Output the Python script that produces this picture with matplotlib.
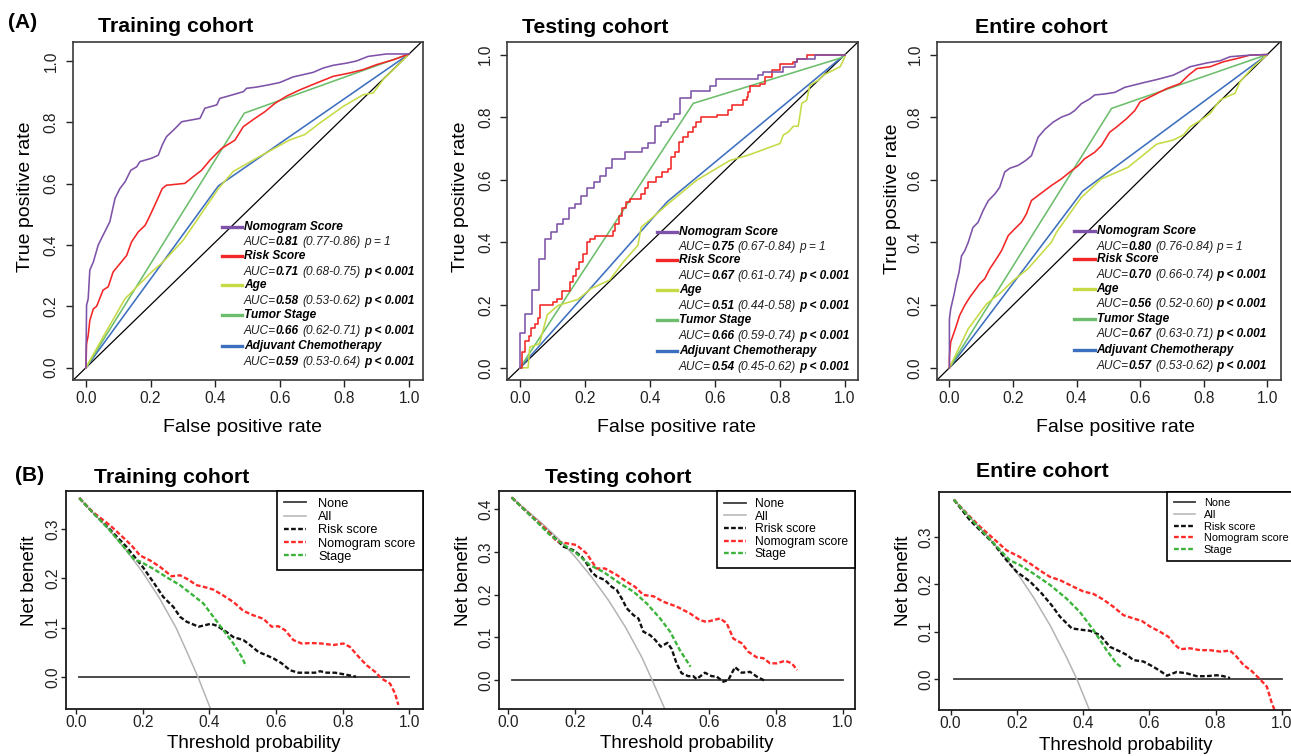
import matplotlib
matplotlib.use('Agg')
import matplotlib.pyplot as plt
from matplotlib.lines import Line2D
from matplotlib.ticker import FormatStrFormatter

plt.rcParams['font.family'] = ['Liberation Sans', 'DejaVu Sans']

# ---------------- ROC data (A) ----------------
# training cohort
tr_nomo_fpr = [0, 0.002, 0.007, 0.012, 0.023, 0.038, 0.053, 0.074, 0.090, 0.105, 0.121, 0.139, 0.157, 0.167,
               0.203, 0.224, 0.236, 0.249, 0.276, 0.296, 0.353, 0.368, 0.405, 0.414, 0.451, 0.487, 0.497, 0.528,
               0.569, 0.60, 0.641, 0.703, 0.734, 0.765, 0.806, 0.837, 0.873, 0.93, 1.0]
tr_nomo_tpr = [0, 0.204, 0.225, 0.318, 0.345, 0.40, 0.432, 0.476, 0.552, 0.584, 0.606, 0.644, 0.655, 0.672,
               0.683, 0.693, 0.726, 0.753, 0.780, 0.802, 0.813, 0.846, 0.857, 0.878, 0.889, 0.900, 0.911, 0.915,
               0.923, 0.93, 0.948, 0.963, 0.977, 0.986, 0.993, 1.0, 1.015, 1.023, 1.023]
tr_risk_fpr = [0, 0.002, 0.007, 0.012, 0.023, 0.033, 0.053, 0.069, 0.084, 0.105, 0.126, 0.141, 0.162, 0.183,
               0.199, 0.22, 0.236, 0.249, 0.306, 0.332, 0.358, 0.384, 0.42, 0.461, 0.487, 0.523, 0.554, 0.585,
               0.62, 0.662, 0.713, 0.765, 0.816, 0.858, 0.899, 0.951, 1.0]
tr_risk_tpr = [0, 0.078, 0.105, 0.154, 0.192, 0.20, 0.253, 0.264, 0.312, 0.339, 0.366, 0.41, 0.443, 0.464,
               0.498, 0.546, 0.584, 0.595, 0.601, 0.623, 0.644, 0.677, 0.715, 0.742, 0.786, 0.813, 0.835, 0.862,
               0.885, 0.906, 0.928, 0.95, 0.961, 0.972, 0.988, 1.004, 1.023]
tr_age_fpr = [0, 0.053, 0.121, 0.203, 0.239, 0.301, 0.410, 0.456, 0.538, 0.631, 0.677, 0.724, 0.796, 0.858,
              0.889, 0.92, 0.957, 1.0]
tr_age_tpr = [0, 0.10, 0.225, 0.312, 0.345, 0.416, 0.584, 0.640, 0.689, 0.743, 0.76, 0.798, 0.852, 0.89,
              0.896, 0.94, 0.978, 1.023]
tr_stage_fpr = [0, 0.49, 1.0]
tr_stage_tpr = [0, 0.83, 1.023]
tr_chemo_fpr = [0, 0.41, 1.0]
tr_chemo_tpr = [0, 0.593, 1.023]

# testing cohort
te_nomo_fpr = [0, 0, 0.016, 0.037, 0.057, 0.076, 0.094, 0.113, 0.132, 0.151, 0.168, 0.189, 0.207, 0.228,
               0.245, 0.266, 0.283, 0.322, 0.375, 0.394, 0.414, 0.435, 0.455, 0.473, 0.491, 0.527, 0.585,
               0.603, 0.733, 0.749, 0.81, 0.846, 0.851, 0.908, 1.0]
te_nomo_tpr = [0, 0.112, 0.172, 0.247, 0.348, 0.412, 0.433, 0.459, 0.475, 0.51, 0.523, 0.548, 0.573, 0.592,
               0.613, 0.637, 0.665, 0.69, 0.70, 0.718, 0.771, 0.784, 0.795, 0.811, 0.861, 0.885, 0.899,
               0.922, 0.935, 0.945, 0.961, 0.977, 0.987, 1.0, 1.0]
te_risk_fpr = [0, 0.006, 0.014, 0.027, 0.035, 0.045, 0.055, 0.063, 0.102, 0.115, 0.13, 0.153, 0.163, 0.173,
               0.182, 0.194, 0.206, 0.214, 0.23, 0.286, 0.293, 0.305, 0.315, 0.327, 0.337, 0.373, 0.384,
               0.394, 0.42, 0.437, 0.455, 0.466, 0.476, 0.488, 0.502, 0.517, 0.532, 0.543, 0.556, 0.605,
               0.641, 0.651, 0.687, 0.697, 0.703, 0.708, 0.738, 0.754, 0.774, 0.8, 0.841, 0.851, 0.882, 1.0]
te_risk_tpr = [0, 0.05, 0.087, 0.1, 0.126, 0.14, 0.158, 0.199, 0.21, 0.22, 0.244, 0.273, 0.294, 0.315,
               0.339, 0.363, 0.401, 0.412, 0.422, 0.438, 0.459, 0.486, 0.51, 0.529, 0.54, 0.555, 0.573,
               0.592, 0.608, 0.624, 0.635, 0.672, 0.688, 0.72, 0.736, 0.754, 0.768, 0.784, 0.80, 0.806,
               0.822, 0.838, 0.854, 0.865, 0.881, 0.899, 0.907, 0.929, 0.95, 0.971, 0.977, 0.987, 1.0, 1.0]
te_age_fpr = [0, 0.006, 0.025, 0.03, 0.06, 0.084, 0.117, 0.178, 0.219, 0.276, 0.318, 0.363, 0.373, 0.404,
              0.455, 0.544, 0.646, 0.703, 0.8, 0.81, 0.826, 0.841, 0.856, 0.867, 0.882, 0.892, 0.918, 0.933,
              0.985, 1.0]
te_age_tpr = [0, 0.0, 0.0, 0.066, 0.077, 0.169, 0.199, 0.218, 0.253, 0.28, 0.338, 0.391, 0.449, 0.476,
              0.523, 0.599, 0.662, 0.679, 0.716, 0.743, 0.753, 0.771, 0.771, 0.844, 0.854, 0.902, 0.918, 0.934,
              0.961, 0.993]
te_stage_fpr = [0, 0.533, 0.99, 1.0]
te_stage_tpr = [0, 0.844, 0.99, 1.0]
te_chemo_fpr = [0, 0.453, 1.0]
te_chemo_tpr = [0, 0.53, 1.0]

# entire cohort
en_nomo_fpr = [0, 0, 0.004, 0.015, 0.022, 0.03, 0.038, 0.048, 0.059, 0.074, 0.09, 0.106, 0.122, 0.143, 0.158,
               0.174, 0.19, 0.216, 0.239, 0.258, 0.279, 0.30, 0.326, 0.352, 0.378, 0.394, 0.415, 0.441, 0.457,
               0.488, 0.52, 0.551, 0.61, 0.652, 0.704, 0.736, 0.757, 0.809, 0.851, 0.883, 0.945, 1.0]
en_nomo_tpr = [0, 0.156, 0.188, 0.236, 0.272, 0.304, 0.357, 0.373, 0.40, 0.448, 0.464, 0.502, 0.533, 0.555,
               0.576, 0.625, 0.637, 0.646, 0.661, 0.677, 0.736, 0.761, 0.784, 0.80, 0.81, 0.821, 0.843, 0.858,
               0.871, 0.874, 0.879, 0.895, 0.91, 0.92, 0.934, 0.95, 0.961, 0.973, 0.98, 0.993, 0.998, 1.0]
en_risk_fpr = [0, 0, 0.004, 0.015, 0.022, 0.032, 0.048, 0.064, 0.08, 0.095, 0.111, 0.127, 0.148, 0.164, 0.185,
               0.206, 0.227, 0.242, 0.258, 0.279, 0.321, 0.352, 0.384, 0.405, 0.425, 0.457, 0.478, 0.504,
               0.525, 0.557, 0.583, 0.6, 0.642, 0.683, 0.725, 0.752, 0.778, 0.82, 0.862, 0.904, 0.945, 1.0]
en_risk_tpr = [0, 0.034, 0.082, 0.114, 0.135, 0.167, 0.199, 0.225, 0.247, 0.268, 0.284, 0.316, 0.348, 0.374,
               0.422, 0.444, 0.465, 0.491, 0.534, 0.55, 0.582, 0.603, 0.629, 0.645, 0.667, 0.688, 0.709, 0.752,
               0.768, 0.795, 0.821, 0.849, 0.87, 0.891, 0.907, 0.934, 0.955, 0.961, 0.977, 0.987, 0.998, 1.0]
en_age_fpr = [0, 0.059, 0.117, 0.164, 0.2, 0.247, 0.321, 0.337, 0.415, 0.478, 0.562, 0.652, 0.704, 0.736,
              0.757, 0.799, 0.82, 0.851, 0.883, 0.898, 0.914, 0.956, 1.0]
en_age_tpr = [0, 0.124, 0.204, 0.242, 0.278, 0.316, 0.401, 0.433, 0.544, 0.603, 0.64, 0.714, 0.727, 0.743,
              0.769, 0.796, 0.812, 0.854, 0.87, 0.876, 0.913, 0.961, 1.0]
en_stage_fpr = [0, 0.51, 1.0]
en_stage_tpr = [0, 0.828, 1.0]
en_chemo_fpr = [0, 0.419, 1.0]
en_chemo_tpr = [0, 0.564, 1.0]

roc_names = ['Nomogram Score', 'Risk Score', 'Age', 'Tumor Stage', 'Adjuvant Chemotherapy']
tr_auc = ['0.81', '0.71', '0.58', '0.66', '0.59']
tr_ci = ['(0.77-0.86)', '(0.68-0.75)', '(0.53-0.62)', '(0.62-0.71)', '(0.53-0.64)']
te_auc = ['0.75', '0.67', '0.51', '0.66', '0.54']
te_ci = ['(0.67-0.84)', '(0.61-0.74)', '(0.44-0.58)', '(0.59-0.74)', '(0.45-0.62)']
en_auc = ['0.80', '0.70', '0.56', '0.67', '0.57']
en_ci = ['(0.76-0.84)', '(0.66-0.74)', '(0.52-0.60)', '(0.63-0.71)', '(0.53-0.62)']
p_txt = ['p = 1', 'p < 0.001', 'p < 0.001', 'p < 0.001', 'p < 0.001']

# ---------------- decision curves (B) ----------------
tr_all_x = [0.01, 0.05, 0.1, 0.15, 0.2, 0.25, 0.3, 0.33, 0.366, 0.404]
tr_all_y = [0.362, 0.333, 0.297, 0.257, 0.212, 0.160, 0.100, 0.055, 0.0, -0.065]
tr_rs_x = [0.01, 0.05, 0.1, 0.152, 0.2, 0.232, 0.262, 0.292, 0.312, 0.332, 0.347, 0.367, 0.387, 0.404, 0.422,
           0.452, 0.472, 0.502, 0.522, 0.547, 0.572, 0.592, 0.617, 0.642, 0.667, 0.692, 0.717, 0.732, 0.752,
           0.777, 0.802, 0.832, 0.84]
tr_rs_y = [0.362, 0.333, 0.30, 0.263, 0.223, 0.192, 0.162, 0.142, 0.122, 0.112, 0.108, 0.102, 0.105, 0.108,
           0.104, 0.091, 0.081, 0.075, 0.065, 0.051, 0.044, 0.038, 0.028, 0.014, 0.009, 0.009, 0.009, 0.012,
           0.009, 0.009, 0.006, 0.002, 0.001]
tr_nom_x = [0.01, 0.05, 0.102, 0.142, 0.167, 0.192, 0.222, 0.252, 0.287, 0.312, 0.332, 0.362, 0.392, 0.412,
            0.442, 0.472, 0.502, 0.532, 0.562, 0.587, 0.607, 0.627, 0.652, 0.677, 0.707, 0.737, 0.772, 0.802,
            0.822, 0.852, 0.872, 0.897, 0.917, 0.942, 0.957, 0.967]
tr_nom_y = [0.362, 0.334, 0.307, 0.282, 0.266, 0.246, 0.236, 0.223, 0.204, 0.206, 0.199, 0.186, 0.181, 0.177,
            0.165, 0.152, 0.134, 0.125, 0.118, 0.102, 0.103, 0.095, 0.075, 0.068, 0.069, 0.068, 0.065, 0.068,
            0.061, 0.038, 0.024, 0.011, -0.003, -0.013, -0.033, -0.056]
tr_st_x = [0.01, 0.05, 0.1, 0.15, 0.177, 0.192, 0.232, 0.272, 0.312, 0.352, 0.382, 0.412, 0.442, 0.472,
           0.497, 0.51]
tr_st_y = [0.362, 0.333, 0.298, 0.258, 0.236, 0.234, 0.219, 0.202, 0.186, 0.165, 0.149, 0.122, 0.095, 0.068,
           0.041, 0.022]

te_all_x = [0.01, 0.05, 0.1, 0.15, 0.2, 0.25, 0.3, 0.35, 0.4, 0.43, 0.467]
te_all_y = [0.427, 0.400, 0.367, 0.330, 0.288, 0.240, 0.186, 0.124, 0.052, 0.0, -0.066]
te_rs_x = [0.01, 0.065, 0.125, 0.165, 0.194, 0.219, 0.234, 0.249, 0.264, 0.289, 0.309, 0.324, 0.339, 0.354,
           0.374, 0.389, 0.404, 0.424, 0.439, 0.456, 0.476, 0.489, 0.503, 0.518, 0.538, 0.553, 0.563, 0.588,
           0.608, 0.623, 0.643, 0.658, 0.678, 0.698, 0.723, 0.743, 0.768]
te_rs_y = [0.427, 0.386, 0.343, 0.312, 0.304, 0.289, 0.273, 0.253, 0.242, 0.234, 0.218, 0.211, 0.191, 0.168,
           0.152, 0.144, 0.113, 0.105, 0.094, 0.078, 0.087, 0.072, 0.039, 0.016, 0.009, 0.009, 0.002, 0.017,
           0.009, 0.008, -0.004, 0.0, 0.03, 0.017, 0.019, 0.008, -0.002]
te_nom_x = [0.01, 0.065, 0.115, 0.145, 0.174, 0.204, 0.234, 0.264, 0.289, 0.324, 0.354, 0.379, 0.404, 0.434,
            0.464, 0.503, 0.543, 0.573, 0.593, 0.633, 0.653, 0.673, 0.698, 0.718, 0.743, 0.763, 0.783, 0.803,
            0.828, 0.848, 0.864]
te_nom_y = [0.427, 0.387, 0.351, 0.324, 0.32, 0.316, 0.296, 0.261, 0.261, 0.246, 0.23, 0.218, 0.199, 0.196,
            0.183, 0.172, 0.156, 0.14, 0.136, 0.144, 0.133, 0.097, 0.086, 0.066, 0.053, 0.051, 0.039, 0.039,
            0.045, 0.039, 0.023]
te_st_x = [0.01, 0.065, 0.125, 0.174, 0.204, 0.244, 0.284, 0.334, 0.374, 0.414, 0.454, 0.484, 0.513, 0.545]
te_st_y = [0.427, 0.386, 0.339, 0.312, 0.296, 0.269, 0.253, 0.226, 0.207, 0.179, 0.144, 0.113, 0.07, 0.031]

en_all_x = [0.01, 0.05, 0.1, 0.15, 0.2, 0.25, 0.3, 0.35, 0.381, 0.419]
en_all_y = [0.379, 0.348, 0.311, 0.270, 0.225, 0.173, 0.114, 0.046, 0.0, -0.065]
en_rs_x = [0.01, 0.058, 0.129, 0.169, 0.199, 0.24, 0.275, 0.305, 0.33, 0.366, 0.396, 0.421, 0.451, 0.481,
           0.512, 0.532, 0.552, 0.582, 0.612, 0.637, 0.653, 0.683, 0.713, 0.743, 0.773, 0.804, 0.824, 0.844]
en_rs_y = [0.379, 0.336, 0.287, 0.251, 0.227, 0.206, 0.181, 0.156, 0.132, 0.107, 0.104, 0.102, 0.093, 0.068,
           0.058, 0.051, 0.04, 0.037, 0.026, 0.015, 0.007, 0.015, 0.012, 0.006, 0.006, 0.008, 0.006, 0.002]
en_nom_x = [0.01, 0.05, 0.089, 0.129, 0.169, 0.209, 0.24, 0.275, 0.3, 0.33, 0.371, 0.401, 0.431, 0.461, 0.491,
            0.522, 0.552, 0.577, 0.602, 0.632, 0.658, 0.678, 0.693, 0.723, 0.753, 0.783, 0.814, 0.844, 0.864,
            0.884, 0.909, 0.935, 0.955, 0.97, 0.978]
en_nom_y = [0.379, 0.349, 0.322, 0.297, 0.272, 0.258, 0.244, 0.227, 0.216, 0.209, 0.195, 0.185, 0.18, 0.168,
            0.153, 0.135, 0.128, 0.123, 0.111, 0.1, 0.089, 0.072, 0.063, 0.065, 0.061, 0.061, 0.058, 0.06,
            0.047, 0.03, 0.017, -0.001, -0.016, -0.051, -0.065]
en_st_x = [0.01, 0.079, 0.149, 0.179, 0.209, 0.25, 0.3, 0.35, 0.39, 0.431, 0.471, 0.501, 0.519]
en_st_y = [0.379, 0.325, 0.273, 0.251, 0.241, 0.223, 0.199, 0.17, 0.142, 0.104, 0.061, 0.033, 0.023]

dca_x_none = [0.01, 1.0]
dca_y_none = [0, 0]

# ---------------- layout helpers ----------------
W, H = 1291, 756
fig = plt.figure(figsize=(W / 100, H / 100), dpi=100)


def fx(px):
    return px / W


def fy(py):
    return 1 - py / H


def add_ax(l, t, r, b):
    return fig.add_axes([l / W, 1 - b / H, (r - l) / W, (b - t) / H])


roc_cols = ['#7D52A8', '#F22626', '#C5DA45', '#6CBE6C', '#3D6FC0']
AUC_COL = '#1e1e1e'


def roc_panel(box, xlim, ylim, slope, curves):
    ax = add_ax(*box)
    ax.axline((0, 0), slope=slope, color='black', lw=0.9, zorder=1)
    for (fp, tp, col, steps) in curves:
        ax.plot(fp, tp, color=col, lw=1.15, drawstyle='steps-post' if steps else 'default', zorder=2)
    ax.set_xlim(*xlim)
    ax.set_ylim(*ylim)
    ax.set_xticks([0, 0.2, 0.4, 0.6, 0.8, 1.0])
    ax.set_yticks([0, 0.2, 0.4, 0.6, 0.8, 1.0])
    ax.xaxis.set_major_formatter(FormatStrFormatter('%.1f'))
    ax.yaxis.set_major_formatter(FormatStrFormatter('%.1f'))
    ax.tick_params(direction='out', length=4.8, width=1.0, labelsize=11.2, colors='#222222')
    ax.tick_params(axis='x', pad=3)
    ax.tick_params(axis='y', pad=5.5, labelrotation=90)
    plt.setp(ax.get_yticklabels(), va='center')
    for s in ax.spines.values():
        s.set_color('#3a3a3a')
        s.set_linewidth(1.2)
    return ax


def roc_legend(ax, lx0, lx1, tx, label_y, auc_y, aucs, cis):
    fs = 8.6
    for i in range(5):
        fig.add_artist(Line2D([fx(lx0), fx(lx1)], [fy(label_y[i]), fy(label_y[i])],
                              transform=fig.transFigure, color=roc_cols[i], lw=2.4))
        fig.text(fx(tx), fy(label_y[i]), roc_names[i], fontsize=fs, style='italic', weight='bold',
                 va='center', ha='left', color='black')
        t = fig.text(fx(tx), fy(auc_y[i]), 'AUC=', fontsize=fs, style='italic', va='center', ha='left',
                     color=AUC_COL)
        t = ax.annotate(aucs[i], xy=(1, 0.5), xycoords=t, va='center', ha='left', fontsize=fs,
                        style='italic', weight='bold', color='black')
        t = ax.annotate(cis[i], xy=(1, 0.5), xycoords=t, xytext=(2.4, 0), textcoords='offset points',
                        va='center', ha='left', fontsize=fs, style='italic', color=AUC_COL)
        ax.annotate(p_txt[i], xy=(1, 0.5), xycoords=t, xytext=(2.4, 0), textcoords='offset points',
                    va='center', ha='left', fontsize=fs, style='italic',
                    weight='normal' if i == 0 else 'bold', color=AUC_COL if i == 0 else 'black')


# ---------------- panel A ----------------
axA1 = roc_panel((73, 42, 423, 380), (-0.04, 1.043), (-0.04, 1.062), 1.023, [
    (tr_chemo_fpr, tr_chemo_tpr, roc_cols[4], False),
    (tr_stage_fpr, tr_stage_tpr, roc_cols[3], False),
    (tr_age_fpr, tr_age_tpr, roc_cols[2], False),
    (tr_risk_fpr, tr_risk_tpr, roc_cols[1], False),
    (tr_nomo_fpr, tr_nomo_tpr, roc_cols[0], False)])
roc_legend(axA1, 221.7, 241.7, 244, [226.7, 255.7, 285, 315, 346], [242.3, 271.7, 301, 331, 362.3],
           tr_auc, tr_ci)

axA2 = roc_panel((507.3, 42.3, 857.7, 380), (-0.039, 1.039), (-0.039, 1.039), 1.0, [
    (te_chemo_fpr, te_chemo_tpr, roc_cols[4], False),
    (te_stage_fpr, te_stage_tpr, roc_cols[3], False),
    (te_age_fpr, te_age_tpr, roc_cols[2], False),
    (te_risk_fpr, te_risk_tpr, roc_cols[1], True),
    (te_nomo_fpr, te_nomo_tpr, roc_cols[0], True)])
roc_legend(axA2, 656.7, 676.7, 679, [231.7, 260.3, 290, 320, 351], [247.3, 276.3, 305.7, 335.7, 366.7],
           te_auc, te_ci)

axA3 = roc_panel((936.7, 42.3, 1280.7, 380), (-0.04, 1.042), (-0.039, 1.039), 1.0, [
    (en_chemo_fpr, en_chemo_tpr, roc_cols[4], False),
    (en_stage_fpr, en_stage_tpr, roc_cols[3], False),
    (en_age_fpr, en_age_tpr, roc_cols[2], False),
    (en_risk_fpr, en_risk_tpr, roc_cols[1], False),
    (en_nomo_fpr, en_nomo_tpr, roc_cols[0], False)])
roc_legend(axA3, 1074.3, 1095, 1096.7, [230.7, 259.3, 289.3, 319, 350], [246.7, 275.3, 304.3, 334.3, 365.7],
           en_auc, en_ci)

# titles and labels, panel A
fig.text(fx(8.3), fy(28.5), '(A)', fontsize=15, weight='bold', ha='left', va='baseline')
for cx, by, s in [(176, 31.7, 'Training cohort'), (595.7, 33.3, 'Testing cohort'), (1041.7, 33.3, 'Entire cohort')]:
    fig.text(fx(cx), fy(by), s, fontsize=15.3, weight='bold', ha='center', va='baseline')
for cx in [242.5, 676.5, 1115]:
    fig.text(fx(cx), fy(428), 'False positive rate', fontsize=14, ha='center', va='center')
for cx, cy in [(25.7, 196.7), (460.8, 196.7), (892.5, 199)]:
    fig.text(fx(cx), fy(cy), 'True positive rate', fontsize=14, ha='center', va='center', rotation=90)

# ---------------- panel B ----------------
DASH = (0, (2, 1))


def dca_panel(box, xlim, ylim, yticks, series, leg):
    ax = add_ax(*box)
    all_x, all_y, rs_x, rs_y, nom_x, nom_y, st_x, st_y, rs_lab = series
    ax.plot(dca_x_none, dca_y_none, color='#3c3c3c', lw=1.3, label='None')
    ax.plot(all_x, all_y, color='#b4b4b4', lw=1.1, label='All')
    ax.plot(rs_x, rs_y, color='#111111', lw=1.7, ls=DASH, label=rs_lab)
    ax.plot(nom_x, nom_y, color='#ff2a2a', lw=1.7, ls=DASH, label='Nomogram score')
    ax.plot(st_x, st_y, color='#3cb43c', lw=1.7, ls=DASH, label='Stage')
    ax.set_xlim(*xlim)
    ax.set_ylim(*ylim)
    ax.set_xticks([0, 0.2, 0.4, 0.6, 0.8, 1.0])
    ax.set_yticks(yticks)
    ax.xaxis.set_major_formatter(FormatStrFormatter('%.1f'))
    ax.yaxis.set_major_formatter(FormatStrFormatter('%.1f'))
    ax.tick_params(direction='out', length=3.5, width=1.0, labelsize=11.2, colors='#222222')
    ax.tick_params(axis='x', pad=0.5)
    ax.tick_params(axis='y', pad=0.5, labelrotation=90)
    plt.setp(ax.get_yticklabels(), va='center')
    for s in ax.spines.values():
        s.set_color('#1a1a1a')
        s.set_linewidth(1.3)
    fs, hl, htp, bp, ls = leg
    lg = ax.legend(loc='upper right', bbox_to_anchor=(1, 1), borderaxespad=0, fontsize=fs,
                   handlelength=hl, handletextpad=htp, borderpad=bp, labelspacing=ls,
                   fancybox=False, framealpha=1, edgecolor='black')
    lg.get_frame().set_linewidth(1.2)
    return ax


dca_panel((65.7, 490.7, 422.7, 709.3), (-0.031, 1.04), (-0.065, 0.377), [0, 0.1, 0.2, 0.3],
          (tr_all_x, tr_all_y, tr_rs_x, tr_rs_y, tr_nom_x, tr_nom_y, tr_st_x, tr_st_y, 'Risk score'),
          (9.2, 1.75, 0.95, 0.55, 0.1))
dca_panel((499, 490.7, 855, 709.3), (-0.028, 1.037), (-0.0686, 0.443), [0, 0.1, 0.2, 0.3, 0.4],
          (te_all_x, te_all_y, te_rs_x, te_rs_y, te_nom_x, te_nom_y, te_st_x, te_st_y, 'Rrisk score'),
          (8.7, 1.84, 0.7, 0.6, 0.05))
dca_panel((938.7, 491.7, 1295, 710), (-0.036, 1.04), (-0.0655, 0.396), [0, 0.1, 0.2, 0.3],
          (en_all_x, en_all_y, en_rs_x, en_rs_y, en_nom_x, en_nom_y, en_st_x, en_st_y, 'Risk score'),
          (7.9, 1.93, 0.8, 0.6, 0.15))

fig.text(fx(15), fy(480.7), '(B)', fontsize=15, weight='bold', ha='left', va='baseline')
for cx, by, s in [(171.7, 483.3, 'Training cohort'), (618.3, 483.3, 'Testing cohort'),
                  (1042.5, 476.7, 'Entire cohort')]:
    fig.text(fx(cx), fy(by), s, fontsize=15.3, weight='bold', ha='center', va='baseline')
for cx, cy in [(253.3, 743), (686.3, 744), (1125.8, 745)]:
    fig.text(fx(cx), fy(cy), 'Threshold probability', fontsize=13.5, ha='center', va='center')
for cx, cy in [(29.7, 580.8), (463, 581), (903, 581)]:
    fig.text(fx(cx), fy(cy), 'Net benefit', fontsize=13.5, ha='center', va='center', rotation=90)

fig.savefig('out.png', dpi=100)
